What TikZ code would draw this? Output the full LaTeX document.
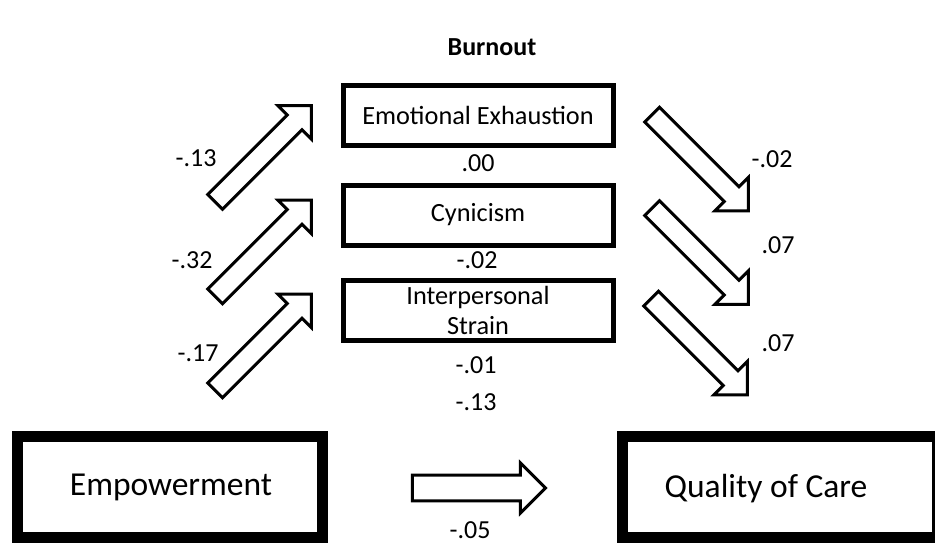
\documentclass[tikz,border=0pt]{standalone}
\usepackage{fontspec}
\setmainfont{Carlito}
\usetikzlibrary{shapes.arrows}
\begin{document}
\begin{tikzpicture}[x=1pt,y=-1pt,
  fsize/.style={font=\fontsize{#1}{#1}\selectfont},
  midbox/.style={draw, line width=5pt, minimum width=270pt, minimum height=60pt, inner sep=0pt, fsize=26.3, align=center},
  bigbox/.style={draw, line width=11pt, inner sep=0pt},
  blockarrow/.style={draw, line width=3pt, line join=miter, single arrow, single arrow tip angle=90,
     inner xsep=0pt, inner ysep=9pt, minimum width=44pt, single arrow head extend=13pt, minimum height=136pt},
  coef/.style={fsize=26, inner sep=0pt},
  bigtext/.style={fsize=33.5, inner sep=0pt},
]
\fill[white] (0,0) rectangle (935,543);
\useasboundingbox (0,0) rectangle (935,543);

% title
\node[font=\fontsize{26}{26}\selectfont\bfseries, inner sep=0pt] (title) at (492,47) {Burnout};

% mediator boxes
\node[midbox] (ee) at (478,115.5) {Emotional Exhaustion};
\node[midbox] (cy) at (478,215) {Cynicism};
\node[midbox, font=\fontsize{26.3}{30}\selectfont] (ip) at (478,310) {Interpersonal\\Strain};

% big boxes (clipped at the picture edge)
\begin{scope}
\clip (0,0) rectangle (935,543);
\node[bigbox, minimum width=305.5pt, minimum height=101pt] (emp) at (169.75,487) {};
\node[bigbox, minimum width=315pt, minimum height=101pt] (qoc) at (780,487) {};
\end{scope}
\node[bigtext] (emptext) at (171,487) {Empowerment};
\node[bigtext] (qoctext) at (766,489) {Quality of Care};

% block arrows left
\node[blockarrow, rotate=45] (la1) at (259.5,157.5) {};
\node[blockarrow, rotate=45] (la2) at (259.5,252) {};
\node[blockarrow, rotate=45] (la3) at (259.5,346) {};
% block arrows right
\node[blockarrow, rotate=-45] (ra1) at (696.5,159) {};
\node[blockarrow, rotate=-45] (ra2) at (696.5,252.5) {};
\node[blockarrow, rotate=-45] (ra3) at (695.5,343) {};
% direct arrow
\node[blockarrow, inner ysep=11.3pt, minimum width=47pt, single arrow head extend=12.2pt, minimum height=133pt] (da) at (472.5,488) {};

% coefficients
\node[coef] (c1) at (196,158) {-.13};
\node[coef] (c2) at (192,260) {-.32};
\node[coef] (c3) at (198,353) {-.17};
\node[coef] (c4) at (772,159) {-.02};
\node[coef] (c5) at (778,245) {.07};
\node[coef] (c6) at (778,343) {.07};
\node[coef] (c7) at (478,163) {.00};
\node[coef] (c8) at (477,260) {-.02};
\node[coef] (c9) at (476,365) {-.01};
\node[coef] (c10) at (476,402) {-.13};
\node[coef] (c11) at (470,530) {-.05};
\end{tikzpicture}
\end{document}
